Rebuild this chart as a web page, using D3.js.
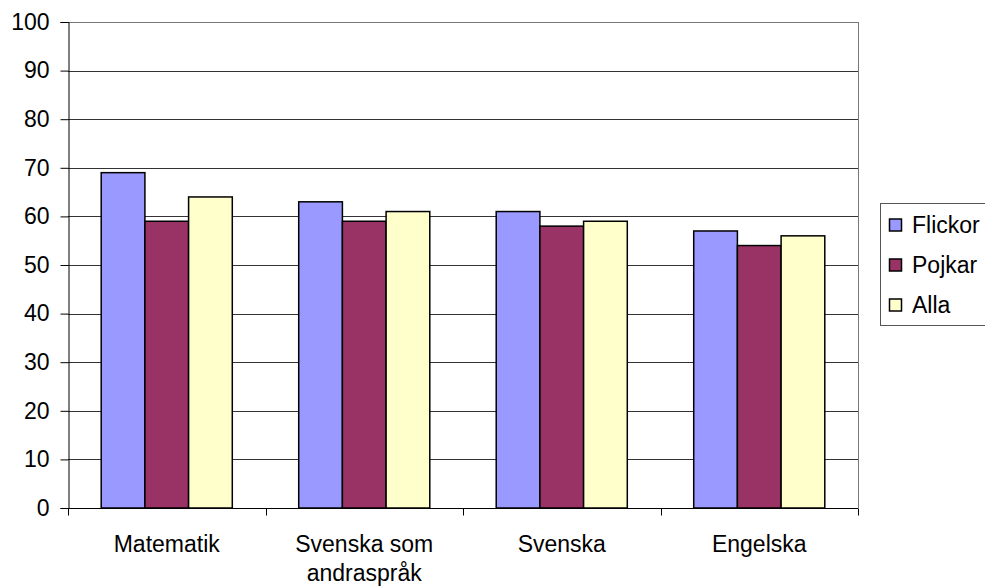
<!DOCTYPE html>
<html>
<head>
<meta charset="utf-8">
<script src="https://cdn.jsdelivr.net/npm/d3@7"></script>
<style>
  body { margin: 0; background: #fff; }
  text { font-family: "Liberation Sans", Arial, sans-serif; fill: #000; }
</style>
</head>
<body>
<div id="chart"></div>
<script>
var categories = [['Matematik'], ['Svenska som', 'andraspråk'], ['Svenska'], ['Engelska']];
var seriesNames = ['Flickor', 'Pojkar', 'Alla'];
var flickor = [69, 63, 61, 57];
var pojkar = [59, 59, 58, 54];
var alla = [64, 61, 59, 56];
var yTicks = [0, 10, 20, 30, 40, 50, 60, 70, 80, 90, 100];

var colors = ['#9999ff', '#993366', '#ffffcc'];
var values = [flickor, pojkar, alla];
var fontSize = '23px';

var width = 985, height = 587;
var margin = {left: 68, top: 22, right: 127, bottom: 79};

var svg = d3.select('#chart').append('svg')
  .attr('width', width)
  .attr('height', height);

var x = d3.scaleBand()
  .domain(d3.range(categories.length))
  .range([margin.left, width - margin.right])
  .paddingInner(0)
  .paddingOuter(0);

var xInner = d3.scaleBand()
  .domain(d3.range(seriesNames.length))
  .range([0, x.bandwidth()])
  .paddingOuter(0.76)
  .paddingInner(0);

var y = d3.scaleLinear()
  .domain([0, 100])
  .range([height - margin.bottom, margin.top]);

// gridlines
svg.append('g')
  .selectAll('line')
  .data(yTicks.slice(1))
  .enter().append('line')
  .attr('x1', margin.left)
  .attr('x2', width - margin.right)
  .attr('y1', function(d) { return Math.round(y(d)) + 0.5; })
  .attr('y2', function(d) { return Math.round(y(d)) + 0.5; })
  .attr('stroke', function(d) { return d === 100 ? '#777' : '#333'; })
  .attr('stroke-width', 1);

// right border of plot
svg.append('line')
  .attr('x1', width - margin.right + 0.5)
  .attr('x2', width - margin.right + 0.5)
  .attr('y1', margin.top)
  .attr('y2', height - margin.bottom)
  .attr('stroke', '#777');

// bars
var groups = svg.append('g').selectAll('g')
  .data(categories)
  .enter().append('g')
  .attr('transform', function(d, i) { return 'translate(' + x(i) + ',0)'; });

groups.selectAll('rect')
  .data(function(d, i) { return values.map(function(v, s) { return {s: s, v: v[i]}; }); })
  .enter().append('rect')
  .attr('x', function(d) { return xInner(d.s); })
  .attr('width', xInner.bandwidth())
  .attr('y', function(d) { return y(d.v); })
  .attr('height', function(d) { return y(0) - y(d.v); })
  .attr('fill', function(d) { return colors[d.s]; })
  .attr('stroke', '#000')
  .attr('stroke-width', 1.5);

// y axis
var yAxis = svg.append('g')
  .attr('transform', 'translate(' + (margin.left + 0.5) + ',0)')
  .call(d3.axisLeft(y).tickValues(yTicks).tickSize(8).tickPadding(11));
yAxis.select('.domain').attr('stroke', '#000');
yAxis.selectAll('.tick line').attr('stroke', '#000');
yAxis.selectAll('text').style('font-size', fontSize);

// x axis
var xAxis = svg.append('g')
  .attr('transform', 'translate(0,' + (y(0) + 0.5) + ')');
xAxis.append('line')
  .attr('x1', margin.left)
  .attr('x2', width - margin.right)
  .attr('stroke', '#000');
xAxis.selectAll('.xtick')
  .data(d3.range(categories.length + 1))
  .enter().append('line')
  .attr('class', 'xtick')
  .attr('x1', function(d) { return Math.round(margin.left + d * x.step()) + 0.5; })
  .attr('x2', function(d) { return Math.round(margin.left + d * x.step()) + 0.5; })
  .attr('y1', 0)
  .attr('y2', 7)
  .attr('stroke', '#000');

xAxis.selectAll('.xlabel')
  .data(categories)
  .enter().append('text')
  .attr('class', 'xlabel')
  .attr('text-anchor', 'middle')
  .style('font-size', fontSize)
  .attr('transform', function(d, i) { return 'translate(' + (x(i) + x.bandwidth() / 2) + ',43)'; })
  .selectAll('tspan')
  .data(function(d) { return d; })
  .enter().append('tspan')
  .attr('x', 0)
  .attr('dy', function(d, i) { return i === 0 ? 0 : 29; })
  .text(function(d) { return d; });

// legend
var legend = svg.append('g').attr('transform', 'translate(880,203)');
legend.append('rect')
  .attr('x', 0.5).attr('y', 0.5)
  .attr('width', 130).attr('height', 122)
  .attr('fill', '#fff')
  .attr('stroke', '#555');

var items = legend.selectAll('.item')
  .data(seriesNames)
  .enter().append('g')
  .attr('class', 'item')
  .attr('transform', function(d, i) { return 'translate(9,' + (22 + i * 40) + ')'; });
items.append('rect')
  .attr('x', 0.5).attr('y', -6)
  .attr('width', 12).attr('height', 12)
  .attr('fill', function(d, i) { return colors[i]; })
  .attr('stroke', '#000')
  .attr('stroke-width', 1.5);
items.append('text')
  .attr('x', 23)
  .attr('dy', '0.35em')
  .style('font-size', fontSize)
  .text(function(d) { return d; });
</script>
</body>
</html>
